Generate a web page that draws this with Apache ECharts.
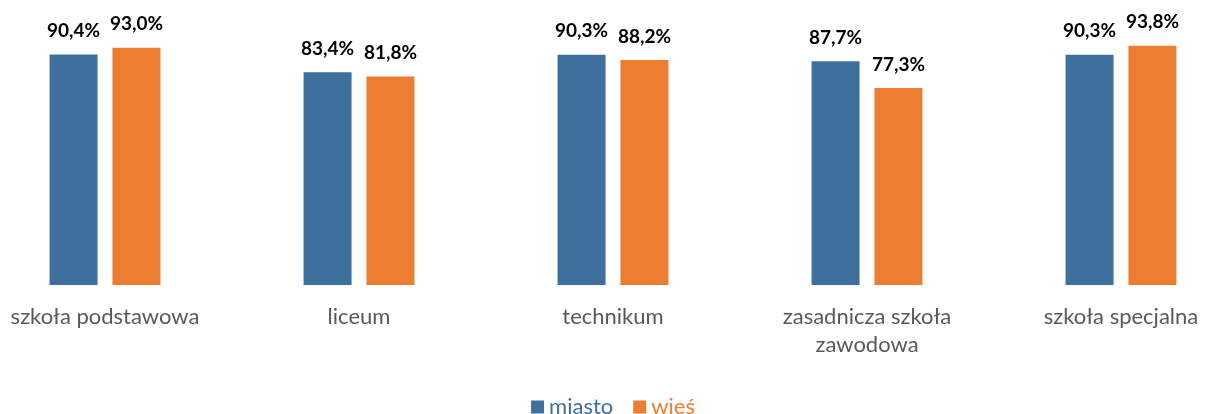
<!DOCTYPE html>
<html>
<head>
<meta charset="utf-8">
<script src="https://cdn.jsdelivr.net/npm/echarts@6/dist/echarts.min.js"></script>
<style>
  html, body { margin: 0; padding: 0; background: #fff; overflow: hidden; }
  /* the original plot runs a little past both edges of the picture */
  #chart { width: 1270px; height: 414px; margin-left: -22px; }
</style>
</head>
<body>
<div id="chart"></div>
<script>
var categories = ['szkoła podstawowa', 'liceum', 'technikum', 'zasadnicza szkoła\nzawodowa', 'szkoła specjalna'];
var seriesNames = ['miasto', 'wieś'];
var miasto = [90.4, 83.4, 90.3, 87.7, 90.3];
var wies = [93.0, 81.8, 88.2, 77.3, 93.8];
var colors = ['#3E6F9D', '#ED7D31'];

var chart = echarts.init(document.getElementById('chart'));

function pct(p) {
    return p.value.toFixed(1).replace('.', ',') + '%';
}

var labelStyle = {
    show: true,
    position: 'top',
    distance: 14,
    formatter: pct,
    color: '#000',
    fontWeight: 'bold',
    fontFamily: 'Lato',
    fontSize: 19
};

chart.setOption({
    animation: false,
    grid: { left: 0, right: 0, top: 30, bottom: 129, containLabel: false },
    legend: {
        top: 391,
        left: 'center',
        itemWidth: 13,
        itemHeight: 13,
        itemGap: 20,
        icon: 'rect',
        data: [
            { name: seriesNames[0], textStyle: { color: colors[0] } },
            { name: seriesNames[1], textStyle: { color: colors[1] } }
        ],
        textStyle: { fontFamily: 'Lato', fontSize: 22 }
    },
    xAxis: {
        type: 'category',
        data: categories,
        axisLine: { show: false },
        axisTick: { show: false },
        axisLabel: {
            color: '#595959',
            fontFamily: 'Lato',
            fontSize: 22,
            lineHeight: 28,
            margin: 18,
            interval: 0
        }
    },
    yAxis: {
        type: 'value',
        min: 0,
        max: 100,
        show: false,
        splitLine: { show: false }
    },
    series: [
        {
            name: seriesNames[0],
            type: 'bar',
            data: miasto,
            barWidth: 48,
            barGap: '31%',
            itemStyle: { color: colors[0] },
            label: labelStyle
        },
        {
            name: seriesNames[1],
            type: 'bar',
            data: wies,
            barWidth: 48,
            itemStyle: { color: colors[1] },
            label: labelStyle
        }
    ]
});
</script>
</body>
</html>
